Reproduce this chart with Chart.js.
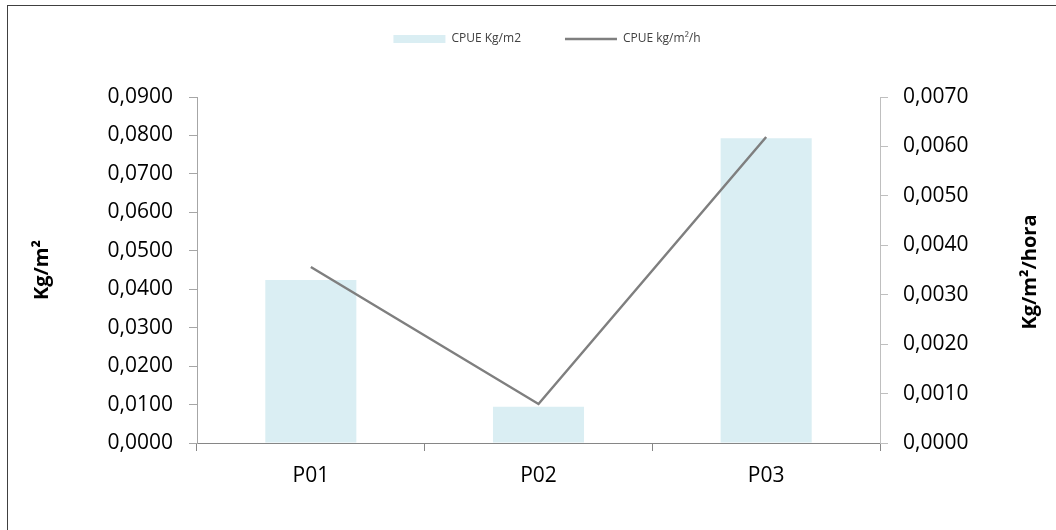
<!DOCTYPE html>
<html>
<head>
<meta charset="utf-8">
<script src="https://cdn.jsdelivr.net/npm/chart.js@4.4.1/dist/chart.umd.min.js"></script>
<style>
  html, body { margin: 0; padding: 0; background: #fff; }
  #wrap { position: relative; width: 1056px; height: 530px; }
  #frame { position: absolute; left: 7px; top: 5px; right: 0; bottom: 0; border-left: 1px solid #404040; border-top: 1px solid #404040; pointer-events: none; }
  canvas { display: block; }
</style>
</head>
<body>
<div id="wrap">
  <canvas id="c" width="1056" height="530"></canvas>
  <div id="frame"></div>
</div>
<script>
const categories = ['P01', 'P02', 'P03'];
const cpueArea = [0.0424, 0.0094, 0.0793];      // CPUE Kg/m2 (left axis)
const cpueHour = [0.00356, 0.00079, 0.00619];   // CPUE kg/m²/h (right axis)
const seriesNames = ['CPUE Kg/m2', 'CPUE kg/m²/h'];
const leftTitle = 'Kg/m²';
const rightTitle = 'Kg/m²/hora';

const LEGEND_H = 108;
const fmt = v => Number(v).toFixed(4).replace('.', ',');

const legendHeightFix = {
  id: 'legendHeightFix',
  beforeLayout(chart) {
    const lg = chart.legend;
    if (lg && !lg.__fixed) {
      const origFit = lg.fit;
      lg.fit = function () { origFit.call(this); this.height = LEGEND_H; };
      lg.__fixed = true;
    }
  }
};

const titleFont = { family: '"Open Sans", sans-serif', size: 20, weight: 'bold' };

// Right axis title reads bottom-to-top like the left one
const rightAxisTitle = {
  id: 'rightAxisTitle',
  afterDraw(chart) {
    const s = chart.scales.y1;
    const ctx = chart.ctx;
    ctx.save();
    ctx.translate(1030, (s.top + s.bottom) / 2 + 2);
    ctx.rotate(-Math.PI / 2);
    ctx.font = 'bold 20px "Open Sans", sans-serif';
    ctx.fillStyle = '#000';
    ctx.textAlign = 'center';
    ctx.textBaseline = 'middle';
    ctx.fillText(rightTitle, 0, 0);
    ctx.restore();
  }
};

const tickFont = { family: '"Open Sans", sans-serif', size: 21 };

new Chart(document.getElementById('c'), {
  data: {
    labels: categories,
    datasets: [
      {
        type: 'bar',
        label: seriesNames[0],
        data: cpueArea,
        yAxisID: 'y',
        backgroundColor: '#DAEEF3',
        borderWidth: 0,
        barPercentage: 0.4,
        categoryPercentage: 1.0,
        pointStyle: 'rect',
        order: 1
      },
      {
        type: 'line',
        label: seriesNames[1],
        data: cpueHour,
        yAxisID: 'y1',
        borderColor: '#7F7F7F',
        backgroundColor: '#7F7F7F',
        borderWidth: 2.5,
        pointRadius: 0,
        tension: 0,
        pointStyle: 'line',
        order: 0
      }
    ]
  },
  options: {
    responsive: false,
    animation: false,
    devicePixelRatio: 1,
    layout: { padding: { left: 38, right: 0, top: -11, bottom: 0 } },
    plugins: {
      tooltip: { enabled: false },
      legend: {
        position: 'top',
        labels: {
          usePointStyle: true,
          pointStyleWidth: 52,
          boxHeight: 8,
          padding: 44,
          color: '#404040',
          font: { family: '"Open Sans", sans-serif', size: 12 },
          sort: (a, b) => a.datasetIndex - b.datasetIndex
        }
      }
    },
    scales: {
      x: {
        type: 'category',
        offset: true,
        border: { display: true, color: '#868686', width: 1 },
        grid: { display: true, drawOnChartArea: false, drawTicks: true, tickLength: 8, offset: true, color: '#868686' },
        ticks: { color: '#000', font: tickFont, padding: 12 },
        afterFit: s => { s.height = 87; }
      },
      y: {
        type: 'linear',
        position: 'left',
        min: 0,
        max: 0.09,
        border: { display: true, color: '#A6A6A6', width: 1 },
        grid: { display: true, drawOnChartArea: false, drawTicks: true, tickLength: 8, color: '#A6A6A6' },
        ticks: { stepSize: 0.01, color: '#000', font: tickFont, padding: 16, callback: v => fmt(v) },
        title: { display: true, text: leftTitle, color: '#000', font: titleFont, padding: { top: -8, bottom: 0 } },
        afterFit: s => { s.width = 159; }
      },
      y1: {
        type: 'linear',
        position: 'right',
        min: 0,
        max: 0.007,
        border: { display: true, color: '#BFBFBF', width: 1 },
        grid: { display: true, drawOnChartArea: false, drawTicks: true, tickLength: 8, color: '#BFBFBF' },
        ticks: { stepSize: 0.001, color: '#000', font: tickFont, padding: 15, callback: v => fmt(v) },
        title: { display: false },
        afterFit: s => { s.width = 176; }
      }
    }
  },
  plugins: [legendHeightFix, rightAxisTitle]
});
</script>
</body>
</html>
